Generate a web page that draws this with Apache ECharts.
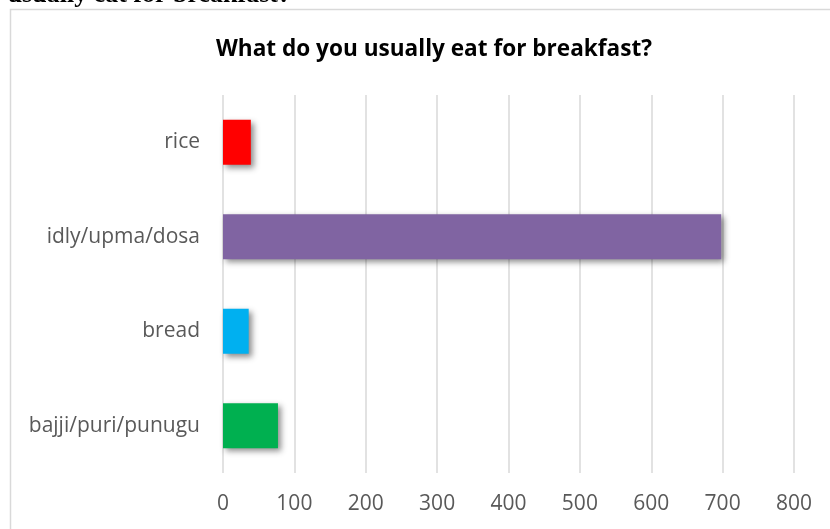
<!DOCTYPE html>
<html>
<head>
<meta charset="utf-8">
<script src="https://cdn.jsdelivr.net/npm/echarts@6/dist/echarts.min.js"></script>
<style>
  html, body { margin: 0; padding: 0; background: #ffffff; }
  #chart { width: 830px; height: 529px; }
</style>
</head>
<body>
<div id="chart"></div>
<script>
// Breakfast survey: number of respondents per usual breakfast item
const categories = ['bajji/puri/punugu', 'bread', 'idly/upma/dosa', 'rice'];
const counts = [77, 36, 698, 39];
const barColors = ['#00B050', '#00B0F0', '#8064A2', '#FF0000'];
const xTicks = [0, 100, 200, 300, 400, 500, 600, 700, 800];

const chart = echarts.init(document.getElementById('chart'));

chart.setOption({
  backgroundColor: '#ffffff',
  animation: false,
  title: {
    text: 'What do you usually eat for breakfast?',
    left: 429,
    textAlign: 'center',
    top: 33,
    textStyle: {
      fontFamily: 'Open Sans',
      fontWeight: 'bold',
      fontSize: 22.6,
      color: '#000000'
    }
  },
  graphic: [
    {
      type: 'rect',
      shape: { x: 10.5, y: 9.5, width: 830, height: 540 },
      style: { fill: 'none', stroke: '#d9d9d9', lineWidth: 1.5 },
      z: -1
    },
    {
      type: 'text',
      x: 291,
      y: 8,
      style: {
        text: 'usually eat for breakfast?',
        align: 'right',
        verticalAlign: 'bottom',
        font: 'bold 26px "Liberation Serif"',
        fill: '#000000'
      }
    }
  ],
  grid: {
    left: 223,
    right: 36,
    top: 95,
    bottom: 56,
    containLabel: false
  },
  xAxis: {
    type: 'value',
    min: xTicks[0],
    max: xTicks[xTicks.length - 1],
    interval: xTicks[1] - xTicks[0],
    axisLine: { show: false },
    axisTick: { show: false },
    axisLabel: {
      color: '#595959',
      fontFamily: 'Open Sans',
      fontSize: 21,
      margin: 21
    },
    splitLine: { show: true, lineStyle: { color: '#d9d9d9', width: 1.5 } }
  },
  yAxis: {
    type: 'category',
    data: categories,
    axisLine: { show: false },
    axisTick: { show: false },
    axisLabel: {
      color: '#595959',
      fontFamily: 'Open Sans',
      fontSize: 21,
      margin: 23
    },
    splitLine: { show: false }
  },
  series: [
    {
      type: 'bar',
      data: counts.map((v, i) => ({ value: v, itemStyle: { color: barColors[i] } })),
      barWidth: 45,
      itemStyle: {
        shadowColor: 'rgba(0,0,0,0.45)',
        shadowBlur: 6,
        shadowOffsetX: 3,
        shadowOffsetY: 3
      }
    }
  ]
});
</script>
</body>
</html>
